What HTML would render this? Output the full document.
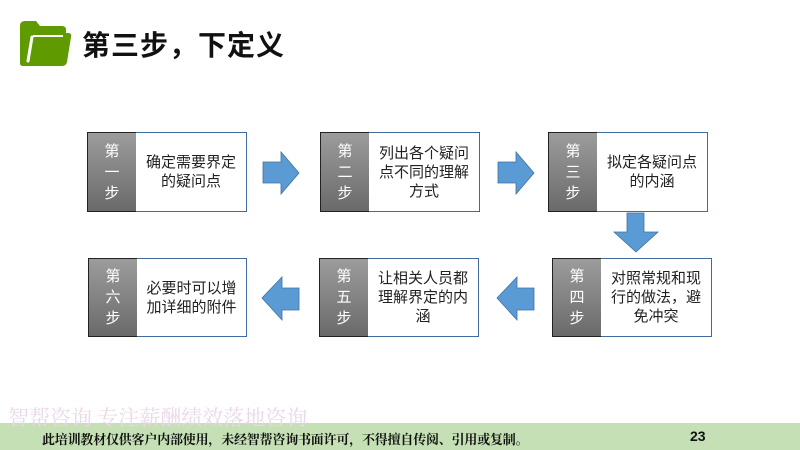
<!DOCTYPE html>
<html><head><meta charset="utf-8"><style>
body{margin:0;width:800px;height:450px;overflow:hidden;background:#fff;position:relative;font-family:"Liberation Sans","Noto Sans CJK SC",sans-serif;}
.a{position:absolute}
.g{position:absolute;background:linear-gradient(#9c9c9c,#6a6a6a);border:1px solid #222;box-sizing:border-box;color:#fff;font-size:15px;line-height:21px;text-align:center;display:flex;align-items:center;justify-content:center;}
.w{position:absolute;background:#fff;border:1.5px solid #3f6c9c;border-left:none;box-sizing:border-box;color:#222;font-size:15px;line-height:19px;text-align:center;display:flex;align-items:center;justify-content:center;padding:0 6px;}
</style></head><body>
<svg class="a" style="left:0;top:0" width="800" height="450">
<path d="M20 26 q0-5 5-5 h11 l4 5 h22 q4 0 4 4 v6 H20z" fill="#5f9a00"/>
<path d="M27 33 h41 q4 0 3 4 l-4 25 q-1 4-5 4 H23 q-3 0-3-3 v-26 q0-4 4-4z" fill="#5f9a00"/>
<path d="M32 37 l-4 24" stroke="#fff" stroke-width="3" fill="none" stroke-linecap="round"/>
<path d="M33 36 h30" stroke="#fff" stroke-width="2" fill="none"/>
<g fill="#5b9bd5" stroke="#41719c" stroke-width="0.8">
<path d="M263 162 h18 v-10 l18 21 l-18 21 v-11 h-18z"/>
<path d="M498 162 h18 v-10 l18 21 l-18 21 v-11 h-18z"/>
<path d="M627 213 h17 v19 h14 l-22 20 l-22 -20 h13z"/>
<path d="M299 288 h-17 v-11 l-20 21 l20 22 v-10 h17z"/>
<path d="M534 288 h-17 v-11 l-20 21 l20 22 v-10 h17z"/>
</g>
</svg>
<div class="a" style="left:82px;top:24px;font-size:28px;font-weight:bold;color:#111;letter-spacing:1px">第三步，下定义</div>

<div class="g" style="left:87px;top:132px;width:50px;height:80px">第<br>一<br>步</div>
<div class="w" style="left:136px;top:132px;width:111px;height:80px">确定需要界定的疑问点</div>
<div class="g" style="left:320px;top:132px;width:50px;height:80px">第<br>二<br>步</div>
<div class="w" style="left:369px;top:132px;width:111px;height:80px">列出各个疑问点不同的理解方式</div>
<div class="g" style="left:548px;top:132px;width:50px;height:80px">第<br>三<br>步</div>
<div class="w" style="left:597px;top:132px;width:111px;height:80px">拟定各疑问点的内涵</div>

<div class="g" style="left:88px;top:258px;width:50px;height:79px">第<br>六<br>步</div>
<div class="w" style="left:137px;top:258px;width:110px;height:79px">必要时可以增加详细的附件</div>
<div class="g" style="left:319px;top:258px;width:50px;height:79px">第<br>五<br>步</div>
<div class="w" style="left:368px;top:258px;width:111px;height:79px">让相关人员都理解界定的内涵</div>
<div class="g" style="left:552px;top:258px;width:50px;height:79px">第<br>四<br>步</div>
<div class="w" style="left:601px;top:258px;width:111px;height:79px">对照常规和现行的做法，避免冲突</div>

<div class="a" style="left:0;top:423px;width:800px;height:27px;background:#c5e0b4"></div>
<div class="a" style="left:8px;top:402px;font-family:'Liberation Serif','Noto Serif CJK SC',serif;font-size:21px;color:#ead7ea">智帮咨询 专注薪酬绩效落地咨询</div>
<div class="a" style="left:42px;top:429px;font-family:'Liberation Serif','Noto Serif CJK SC',serif;font-size:13px;font-weight:bold;letter-spacing:-0.2px;color:#111">此培训教材仅供客户内部使用，未经智帮咨询书面许可，不得擅自传阅、引用或复制。</div>
<div class="a" style="left:690px;top:428px;font-size:14px;font-weight:bold;color:#111">23</div>
</body></html>
